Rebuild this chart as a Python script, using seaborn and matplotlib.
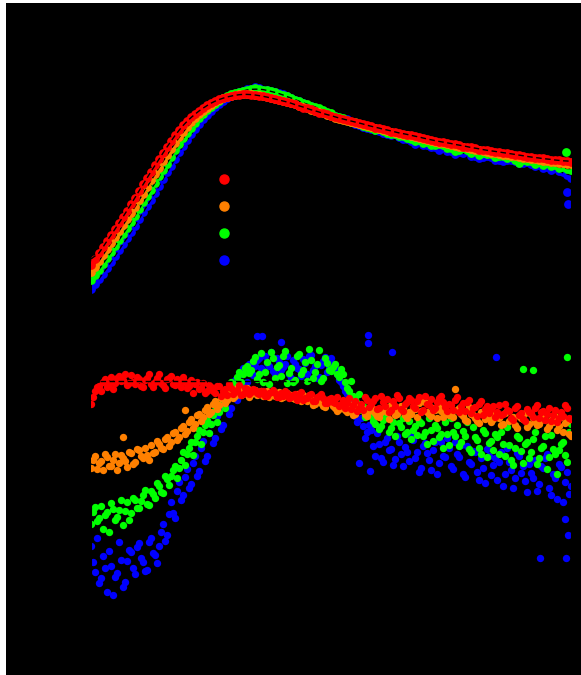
import numpy as np
import pandas as pd
import matplotlib
matplotlib.use('Agg')
import matplotlib.pyplot as plt
import seaborn as sns
from matplotlib.lines import Line2D
from matplotlib.patches import Rectangle

# samples and colours (legend order top to bottom)
samples = ['Sample A', 'Sample B', 'Sample C', 'Sample D']
colors = {'Sample A': '#ff0000', 'Sample B': '#ff8000',
          'Sample C': '#00ff00', 'Sample D': '#0000ff'}

# sampling times (min)
time_top = np.arange(0, 60.5, 0.5)
time_bottom_1 = np.arange(0, 60.5, 0.5)
time_bottom_2 = np.arange(0.25, 60, 0.5)

# top panel: signal
signal_a = [17.5, 20.5, 23.5, 26.5, 29.5, 32.5, 35.5, 38.5, 41.5, 44.5,
            48, 51, 54.5, 58, 61, 64, 67.5, 70.5, 73.5, 76.5,
            79.5, 82.5, 85, 87.5, 89.5, 91.5, 93, 94.5, 96, 97.5,
            98.5, 99.5, 100.5, 101, 101.5, 102, 102.5, 102.75, 103, 103,
            102.75, 102.5, 102.25, 102, 101.5, 101, 100.5, 100, 99.5, 99,
            98.5, 98, 97, 96, 96, 95.5, 94.5, 93.5, 93.5, 93,
            92, 91.5, 91, 90.5, 90, 89.5, 89, 88.5, 88, 87.5,
            87, 86, 86, 85.75, 85, 84.25, 84, 83.75, 83.25, 82.5,
            82.5, 82, 81.5, 81, 80.5, 80, 79.75, 79.25, 79, 78.5,
            78.25, 78, 77.5, 76.75, 76.75, 76.5, 76, 75.25, 75.25, 75,
            74.5, 74.25, 74, 73.75, 73.5, 73, 72.75, 72.5, 72.25, 71.75,
            71.5, 71, 71, 71, 70.5, 70, 70, 70, 69.5, 69.5,
            69]
signal_b = [14, 16.5, 19.5, 22.5, 25.5, 28.5, 31.5, 34.5, 37.5, 40.5,
            43.5, 46.5, 50, 53, 56.5, 60, 63, 66, 69.5, 72.5,
            75.5, 78.5, 81.5, 84, 86.5, 89, 91, 93, 94.5, 96,
            97.5, 99, 100, 101, 101.5, 102, 102.5, 103, 103, 103.25,
            103, 102.75, 102.5, 102, 101.75, 101.25, 100.75, 100, 99.5, 99,
            98.5, 98, 97.25, 96.5, 96, 95.25, 94.5, 94, 93.5, 92.75,
            92, 91.25, 90.75, 90, 89.5, 89, 88.5, 88, 87.5, 87,
            86.5, 86, 85.5, 85, 84.5, 84, 83.5, 83, 82.75, 82.5,
            82, 81.5, 81, 80.5, 80, 79.75, 79.25, 78.75, 78.5, 78,
            77.5, 77, 76.75, 76.5, 76, 75.5, 75.25, 75, 74.5, 74,
            73.75, 73.5, 73.25, 72.75, 72.5, 72.25, 72, 71.5, 71.25, 71,
            70.75, 70.5, 70, 69.75, 69.5, 69.25, 69, 68.75, 68.5, 68.25,
            68]
signal_c = [10, 12.5, 15, 18, 21, 24, 27, 30, 33, 36,
            39, 42, 45.5, 49, 52, 55, 58.5, 62, 65, 68,
            71.5, 75, 78, 81, 83.5, 86, 88.5, 91, 93, 95,
            96.5, 98, 99.5, 101, 102, 103, 103.5, 104, 104.5, 105,
            105.5, 106, 105.5, 105, 105, 104.5, 104, 103, 102.5, 102,
            101, 100, 99.5, 98.5, 98, 97, 96.5, 96, 95, 94,
            93.5, 92, 91.5, 91, 90, 89, 89, 88, 87, 86.5,
            86, 85, 85.5, 84.5, 83.5, 83, 83, 82, 82, 81,
            80.5, 79.5, 80, 78.5, 79, 77.5, 77.5, 78, 77.5, 76,
            76, 74.5, 75, 76, 75, 73.5, 75, 72.5, 73.5, 73,
            73, 71.5, 72, 72, 71, 71.5, 70, 68.5, 70, 69.5,
            69.5, 68, 69, 67.5, 68.5, 67, 67.5, 66, 66.5, 65.5,
            65]
signal_d = [5.5, 8, 10.5, 13, 16, 19, 22, 25, 28, 31,
            34, 37, 40.5, 44, 47, 50, 53.5, 57, 60.5, 64,
            67, 70.5, 74, 77, 80, 83, 85.5, 88, 90.5, 92.5,
            94.5, 96.5, 98, 99.5, 101, 102, 103, 104, 104.5, 105.5,
            105.5, 106.5, 106, 105, 105, 104.5, 104, 103.5, 103, 102,
            101, 100, 99.5, 98.5, 97.5, 97, 96, 95, 94.5, 93.5,
            92.5, 92, 91, 90.5, 90.5, 89, 88, 87.5, 86.5, 86,
            85.5, 85, 84.5, 83.5, 83, 82.5, 83, 81.5, 80.5, 80.5,
            79.5, 78, 79.5, 77.5, 77.5, 76.5, 76.5, 75, 76, 74.5,
            74.5, 73, 74, 73.5, 74.5, 72, 72, 71, 71.5, 72,
            71.5, 70, 70, 69.5, 70, 70, 69.5, 68.5, 68.5, 69,
            68, 67, 67.5, 66, 66.5, 65, 66, 64.5, 64, 62.5,
            61]
top_extra_time = {'Sample C': [59.4], 'Sample D': [59.6, 59.5]}
top_extra_value = {'Sample C': [74], 'Sample D': [48, 54]}

# bottom panel: normalised ratio (%), two interleaved reads per sample
ratio_a_1 = [93, 99.5, 102, 104, 101.5, 106.5, 103.5, 107, 105, 102.5,
             107.5, 103, 105.5, 101.5, 106, 103, 104, 108, 102.5, 105.5,
             107, 102.5, 104, 106.5, 101, 105, 103, 100.5, 103.5, 99.5,
             101.5, 98.5, 102, 99.5, 97.5, 101, 99, 102.5, 98, 100.5,
             99, 100, 98, 99.5, 97, 99, 98.5, 96.5, 97, 98.5,
             96.5, 98, 97.5, 95, 96, 98, 94.5, 97, 96, 93.5,
             96, 93.5, 92, 95, 93.5, 90.5, 94.5, 91, 90, 95,
             93, 96, 91, 94, 95.5, 90, 92, 96, 89.5, 94,
             95, 91, 96.5, 90, 93, 95.5, 91, 96, 94, 89.5,
             92.5, 95, 89, 93.5, 94, 88.5, 91.5, 93, 87.5, 92,
             90.5, 86.5, 92.5, 88, 90, 86, 91, 87.5, 85.5, 90.5,
             88.5, 91, 86, 89.5, 88, 84.5, 90, 86, 87, 91,
             85.5]
ratio_a_2 = [96.5, 101.5, 99.5, 105.5, 103, 100.5, 106, 104.5, 108, 103.5,
             104, 106.5, 102, 105, 108, 101.5, 106, 103.5, 101, 106,
             103, 105.5, 101.5, 104, 102, 98.5, 104, 101, 98.5, 102.5,
             99.5, 102, 97, 100.5, 103, 98, 100, 97.5, 101, 98,
             100.5, 98.5, 99.5, 97, 98.5, 100, 96.5, 98.5, 99.5, 96,
             97.5, 95, 99, 96, 97.5, 94.5, 96.5, 98, 93.5, 95.5,
             94, 96.5, 93, 91, 96, 92.5, 89.5, 93, 96.5, 91.5,
             94.5, 90.5, 97, 92, 89, 94.5, 97.5, 90.5, 93, 96,
             92, 94.5, 89, 97, 92.5, 90, 94, 97, 91.5, 93,
             90, 96.5, 92, 89.5, 95, 91, 87, 94.5, 90.5, 88.5,
             92, 89, 87.5, 93, 89.5, 85, 92, 88.5, 84.5, 89,
             86.5, 92.5, 89, 85, 91, 87.5, 84, 89, 92.5, 86]
ratio_b_1 = [61, 67, 63.5, 60, 66.5, 62, 68, 63.5, 66, 61.5,
             68.5, 64, 70, 66, 67.5, 72.5, 69, 73, 70.5, 76.5,
             74, 79, 76.5, 82, 79.5, 85.5, 83, 88, 86.5, 91.5,
             89, 94.5, 92.5, 97, 95, 99.5, 97, 100.5, 98, 101,
             98, 100, 98.5, 97, 99.5, 98, 97, 99, 96.5, 98.5,
             97.5, 95.5, 96, 97.5, 94.5, 96, 93, 95.5, 92, 94,
             93.5, 91, 90.5, 92.5, 89, 91.5, 88, 92, 90.5, 87,
             91.5, 88.5, 86.5, 90, 89, 92.5, 87.5, 89.5, 91, 86,
             88, 90.5, 93.5, 95, 89, 87, 90, 92.5, 86.5, 89,
             88.5, 100.5, 91, 87, 84.5, 88, 86, 83.5, 89, 86.5,
             84, 88.5, 86, 83, 89.5, 85, 82.5, 87, 85.5, 81.5,
             88, 84, 83, 86.5, 80.5, 85, 87, 82, 79, 84.5,
             77]
ratio_b_2 = [65, 60.5, 64.5, 68, 62, 65, 60, 67.5, 64.5, 69,
             63, 70.5, 67, 71, 65, 68.5, 74.5, 71, 75.5, 72,
             78.5, 75, 81, 78, 84, 81, 87.5, 84.5, 90, 88,
             93, 90.5, 96, 93.5, 98.5, 96, 101, 97.5, 99.5, 96.5,
             99, 97.5, 99.5, 98.5, 96.5, 99.5, 98, 96, 98.5, 97,
             96, 98, 94.5, 96.5, 95, 92.5, 95, 93.5, 91.5, 94.5,
             92, 89.5, 92, 90, 93, 87.5, 90, 92.5, 88, 89.5,
             90.5, 87, 89, 91.5, 85.5, 90.5, 88, 92, 87.5, 89,
             91.5, 86.5, 89.5, 94, 88, 91, 86, 89.5, 92.5, 87.5,
             86.5, 90, 88, 85, 91.5, 87.5, 84.5, 89, 85.5, 88,
             85.5, 87, 82.5, 88.5, 84.5, 86.5, 81, 86, 88.5, 83,
             86, 82.5, 85, 88, 82, 84, 80, 86.5, 83.5, 78]
ratio_c_1 = [33, 41.5, 36, 30.5, 39, 43.5, 35, 40, 32.5, 44,
             38.5, 45, 41, 47.5, 43, 49.5, 46, 52, 48.5, 55.5,
             57, 62, 61, 69, 68, 74, 74, 80, 79, 85,
             83, 90, 89, 97, 96, 104, 103, 109, 108, 112,
             110, 116.5, 108, 104, 114, 119, 106, 112.5, 117, 103.5,
             111, 105, 118, 110, 104.5, 115, 109, 120, 106, 113.5,
             109.5, 113, 106.5, 108, 101, 104.5, 95.5, 98, 92, 88.5,
             87, 83, 80.5, 85, 88.5, 81, 77, 83.5, 86, 79,
             75.5, 82, 84.5, 77, 73, 80, 82.5, 76.5, 71, 78,
             86, 77, 72, 79.5, 84, 69, 76.5, 71, 80, 66.5,
             74.5, 78, 68, 73, 81.5, 65, 71, 76, 63.5, 74,
             69, 79, 66, 72, 60.5, 77.5, 68, 70, 74, 64,
             83]
ratio_c_2 = [39, 34.5, 42, 37.5, 29, 40.5, 36.5, 45, 39.5, 35,
             46, 41, 44.5, 50, 42.5, 48, 53.5, 49, 57, 52.5,
             60, 56, 65, 62.5, 71, 67.5, 77, 73, 82.5, 78.5,
             87.5, 84, 93, 91, 100, 98, 106.5, 104, 111, 108.5,
             114.5, 105.5, 118.5, 109, 103, 116, 111.5, 107, 119.5, 108.5,
             104, 117, 108, 114, 120.5, 106, 113, 104.5, 116, 110,
             111.5, 108, 110.5, 104, 99.5, 97, 93.5, 90, 86.5, 91,
             84.5, 89.5, 82, 86.5, 79, 84, 88.5, 81.5, 78, 84.5,
             80, 77.5, 83.5, 79, 86, 74.5, 81, 78, 84, 72.5,
             79, 82.5, 74, 77, 70.5, 81.5, 75, 68, 78.5, 73.5,
             70, 76.5, 79, 67, 72.5, 62.5, 77, 69.5, 73, 66,
             75.5, 63, 71, 77, 66.5, 70.5, 58, 73, 67.5, 79]
ratio_d_1 = [22, 9, 3.5, 17, -1, 12, 6.5, 24, 1.5, 14.5,
             19, 8, 23.5, 14, 10, 26, 17.5, 22, 33, 27.5,
             44, 36, 54, 47.5, 60.5, 53, 67, 59.5, 74.5, 67,
             83, 76, 90.5, 82.5, 98, 91, 105, 97.5, 111, 104,
             109, 112, 116, 110, 113.5, 119, 108, 114, 111.5, 117,
             106, 113, 110.5, 115.5, 108, 117.5, 112, 106.5, 114.5, 109,
             116, 111, 105, 102, 98, 93.5, 87, 90.5, 82, 79,
             80, 67, 73, 64, 76, 70.5, 65.5, 74, 62, 69,
             77, 66, 59, 72, 68.5, 60, 74, 63.5, 67, 76,
             62, 74, 66.5, 58, 72, 63, 69, 55, 61, 70.5,
             57.5, 66, 64, 52, 71, 60, 56, 67, 62, 49,
             58.5, 65, 53, 61, 68, 47.5, 56, 63, 44, 59,
             52]
ratio_d_2 = [14, 26, 6, 11, 19.5, -2.5, 8.5, 15, 4, 20,
             11, 21.5, 16, 9.5, 24, 18.5, 13.5, 29, 24.5, 38,
             38.5, 49.5, 45, 56.5, 51, 63.5, 57, 71, 64.5, 78.5,
             73.5, 87, 80.5, 94.5, 88, 101.5, 95, 108, 102.5, 113,
             107.5, 115, 111, 117, 112, 109.5, 116, 110, 113, 108,
             115, 111, 107, 113.5, 117, 110, 106, 112.5, 116.5, 111.5,
             113, 108, 104, 99.5, 95, 89, 84, 86, 76, 82.5,
             72, 78.5, 66, 74, 70, 62.5, 77, 68, 71.5, 64.5,
             75, 69, 61, 73.5, 65, 70, 58, 74, 66.5, 71,
             60.5, 68, 72.5, 56.5, 64, 69.5, 59, 66, 53.5, 67,
             62.5, 55, 69, 58, 64, 51, 68.5, 58.5, 54.5, 63,
             56, 49.5, 62, 66, 51, 58, 45.5, 61.5, 54, 48]
bottom_extra_time = {'Sample B': [4, 11.75],
                     'Sample C': [54, 55.3, 59.5],
                     'Sample D': [20.75, 21.4, 23.75, 33.5, 34.6, 34.6, 34.9,
                                  37.6, 50.6, 56.1, 59.25, 59.4, 59.6]}
bottom_extra_value = {'Sample B': [76.5, 90],
                      'Sample C': [110.5, 110, 116.5],
                      'Sample D': [127, 127, 124, 63.5, 127.5, 123.5, 59.5,
                                   119, 116.5, 16, 35.5, 16, 27.5]}

# plateau reference level drawn in the lower panel
plateau_time = [0, 27.5]
plateau_value = [104.5, 104.5]

top_series = {'Sample A': [(time_top, signal_a)], 'Sample B': [(time_top, signal_b)],
              'Sample C': [(time_top, signal_c)], 'Sample D': [(time_top, signal_d)]}
bottom_series = {'Sample A': [(time_bottom_1, ratio_a_1), (time_bottom_2, ratio_a_2)],
                 'Sample B': [(time_bottom_1, ratio_b_1), (time_bottom_2, ratio_b_2)],
                 'Sample C': [(time_bottom_1, ratio_c_1), (time_bottom_2, ratio_c_2)],
                 'Sample D': [(time_bottom_1, ratio_d_1), (time_bottom_2, ratio_d_2)]}


def make_frame(series, extra_t, extra_v):
    parts = []
    for s, reads in series.items():
        for times, vals in reads:
            parts.append(pd.DataFrame({'time': times, 'value': vals, 'sample': s, 'fit': True}))
        if s in extra_t:
            parts.append(pd.DataFrame({'time': extra_t[s], 'value': extra_v[s],
                                       'sample': s, 'fit': False}))
    return pd.concat(parts, ignore_index=True)


top = make_frame(top_series, top_extra_time, top_extra_value)
bottom = make_frame(bottom_series, bottom_extra_time, bottom_extra_value)

sns.set_style('ticks')
plt.rcParams.update({'axes.facecolor': 'black', 'figure.facecolor': 'black',
                     'axes.edgecolor': 'black', 'text.color': 'black',
                     'axes.labelcolor': 'black', 'xtick.color': 'black',
                     'ytick.color': 'black', 'xtick.labelsize': 8,
                     'ytick.labelsize': 8})

fig = plt.figure(figsize=(5.81, 6.75), dpi=100)
ax_top = fig.add_axes([91 / 581, 365 / 675, 480 / 581, 270 / 675])
ax_bot = fig.add_axes([91 / 581, 25 / 675, 480 / 581, 320 / 675])

draw_order = ['Sample D', 'Sample C', 'Sample B', 'Sample A']

# top: points with a dashed smooth fit per sample
for i, s in enumerate(draw_order):
    d = top[top['sample'] == s].sort_values('time')
    sns.scatterplot(data=d, x='time', y='value', color=colors[s], s=40,
                    linewidth=0, ax=ax_top, zorder=2 * i + 1, legend=False)
    fit = d[d['fit']].copy()
    fit['value'] = fit['value'].rolling(5, center=True, min_periods=1).mean()
    sns.lineplot(data=fit, x='time', y='value', color='black', lw=1.0,
                 dashes=[(4, 2.5)], style=True, estimator=None, legend=False,
                 ax=ax_top, zorder=2 * i + 2)

# bottom: noisy ratios
for i, s in enumerate(draw_order):
    d = bottom[bottom['sample'] == s].sort_values('time')
    sns.scatterplot(data=d, x='time', y='value', color=colors[s], s=28,
                    linewidth=0, ax=ax_bot, zorder=i + 1, legend=False)
sns.lineplot(x=plateau_time, y=plateau_value, color='black', lw=1.0,
             dashes=[(4, 2.5)], style=True, estimator=None, legend=False,
             ax=ax_bot, zorder=10)

ax_top.set_xlim(0, 60)
ax_top.set_ylim(-5, 130)
ax_bot.set_xlim(0, 60)
ax_bot.set_ylim(-30, 130)
for ax in (ax_top, ax_bot):
    ax.set_xlabel('')
    ax.set_ylabel('')

handles = [Line2D([], [], marker='o', ls='', color=colors[s], markersize=6.5)
           for s in samples]
ax_top.legend(handles, samples, loc='upper left',
              bbox_to_anchor=(217.1 / 581, 1 - 171.5 / 675),
              bbox_transform=fig.transFigure, frameon=False, borderpad=0,
              borderaxespad=0, handlelength=1, handleheight=1.94,
              labelspacing=0.43, handletextpad=0.8, fontsize=10)

# thin white margin on the left and top edge
fig.add_artist(Rectangle((0, 0), 6 / 581, 1, transform=fig.transFigure,
                         facecolor='white', edgecolor='none', zorder=10))
fig.add_artist(Rectangle((0, 1 - 3 / 675), 1, 3 / 675, transform=fig.transFigure,
                         facecolor='white', edgecolor='none', zorder=10))

fig.savefig('out.png', dpi=100)
